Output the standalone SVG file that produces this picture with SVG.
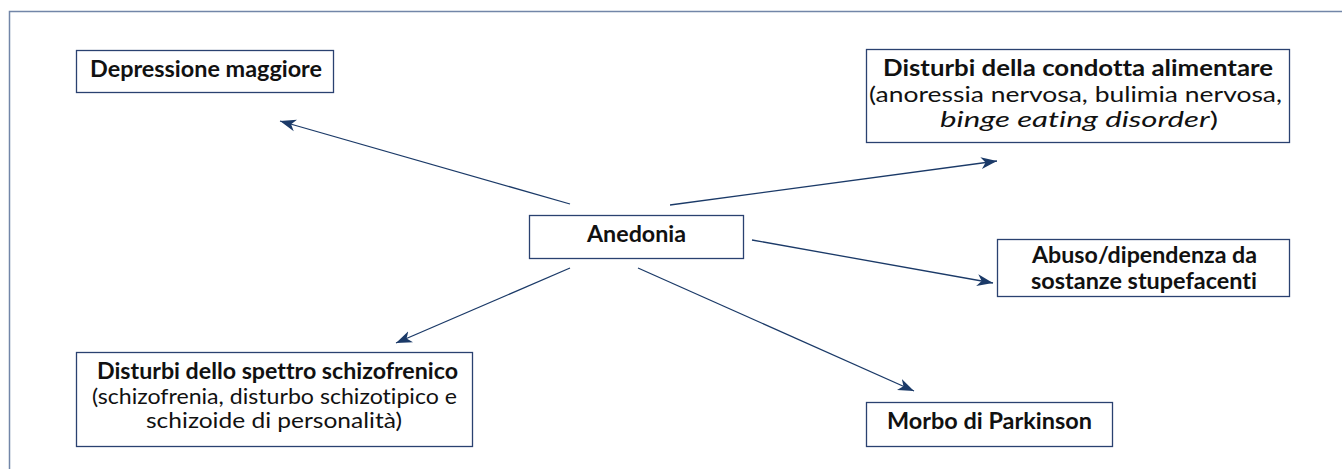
<svg xmlns="http://www.w3.org/2000/svg" width="1342" height="469" viewBox="0 0 1342 469">
  <style>
    .box { fill: #ffffff; stroke: #2a4170; stroke-width: 1.3; }
    .frame { fill: none; stroke: #7286a8; stroke-width: 1.5; }
    .t { font-family: Lato, "Liberation Sans", sans-serif; font-size: 21px; fill: #111111; font-variant-ligatures: none; font-feature-settings: "liga" 0, "dlig" 0; }
    .b { font-weight: bold; font-size: 22.5px; }
    .i { font-style: italic; }
    .conn { stroke: #1b3a68; stroke-width: 1.3; fill: none; marker-end: url(#head); }
  </style>
  <defs>
    <marker id="head" markerUnits="userSpaceOnUse" markerWidth="18" markerHeight="14" refX="16" refY="7" orient="auto">
      <path d="M0,1 L16,7 L0,13 L4.5,7 Z" fill="#1b3a68"/>
    </marker>
  </defs>

  <rect x="1" y="1" width="1340" height="467" fill="#ffffff"/>
  <!-- outer panel border -->
  <path class="frame" d="M9.5,469 V11.5 H1342"/>

  <g id="connectors">
    <line class="conn" x1="570" y1="204" x2="280" y2="121"/>
    <line class="conn" x1="670" y1="205" x2="997" y2="161"/>
    <line class="conn" x1="752" y1="240" x2="993" y2="283"/>
    <line class="conn" x1="570" y1="268" x2="396" y2="343"/>
    <line class="conn" x1="638" y1="268" x2="914" y2="391"/>
  </g>

  <g id="depressione">
    <rect class="box" x="76.5" y="50.5" width="257" height="42"/>
    <text class="t b" x="90" y="77" textLength="232" lengthAdjust="spacingAndGlyphs">Depressione maggiore</text>
  </g>

  <g id="condotta-alimentare">
    <rect class="box" x="866.5" y="49.5" width="423" height="93"/>
    <text class="t b" x="883" y="76" textLength="390" lengthAdjust="spacingAndGlyphs">Disturbi della condotta alimentare</text>
    <text class="t" x="869" y="102" textLength="413" lengthAdjust="spacingAndGlyphs">(anoressia nervosa, bulimia nervosa,</text>
    <text class="t" x="940" y="127" textLength="278" lengthAdjust="spacingAndGlyphs"><tspan class="i">binge eating disorder</tspan>)</text>
  </g>

  <g id="anedonia">
    <rect class="box" x="529.5" y="215.5" width="214" height="43"/>
    <text class="t b" x="587" y="242" textLength="99" lengthAdjust="spacingAndGlyphs">Anedonia</text>
  </g>

  <g id="abuso">
    <rect class="box" x="997.5" y="239.5" width="292" height="57"/>
    <text class="t b" x="1032" y="263" textLength="225" lengthAdjust="spacingAndGlyphs">Abuso/dipendenza da</text>
    <text class="t b" x="1031" y="289" textLength="226" lengthAdjust="spacingAndGlyphs">sostanze stupefacenti</text>
  </g>

  <g id="spettro-schizofrenico">
    <rect class="box" x="76.5" y="352.5" width="396" height="94"/>
    <text class="t b" x="97" y="379" textLength="361" lengthAdjust="spacingAndGlyphs">Disturbi dello spettro schizofrenico</text>
    <text class="t" x="92" y="404" textLength="365" lengthAdjust="spacingAndGlyphs">(schizofrenia, disturbo schizotipico e</text>
    <text class="t" x="146" y="428" textLength="256" lengthAdjust="spacingAndGlyphs">schizoide di personalità)</text>
  </g>

  <g id="parkinson">
    <rect class="box" x="866.5" y="402.5" width="246" height="44"/>
    <text class="t b" x="887" y="429" textLength="205" lengthAdjust="spacingAndGlyphs">Morbo di Parkinson</text>
  </g>
</svg>
